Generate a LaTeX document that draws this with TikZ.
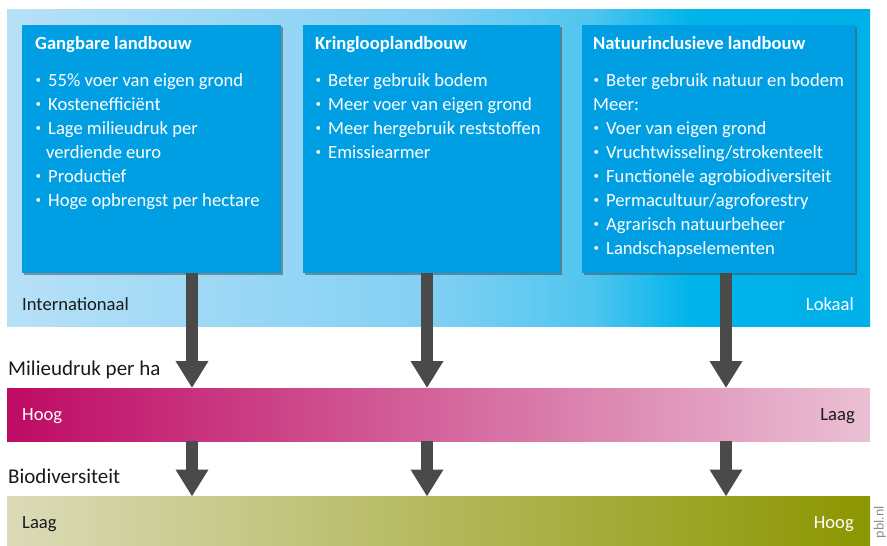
\documentclass[tikz,border=0pt]{standalone}
\usepackage{fontspec}
\setmainfont{Carlito}
\usetikzlibrary{arrows.meta,shadows}
\definecolor{boxblue}{RGB}{0,159,227}
\definecolor{arrowgray}{RGB}{74,74,74}
\definecolor{txtdark}{RGB}{26,26,26}
\definecolor{mdL}{RGB}{190,10,100}
\definecolor{mdR}{RGB}{234,192,212}
\definecolor{bdL}{RGB}{219,219,185}
\definecolor{bdR}{RGB}{140,150,0}
\definecolor{pblgray}{RGB}{140,140,140}
\pgfdeclarehorizontalshading{topband}{100bp}{%
 rgb(0bp)=(0.72,0.88,0.97);
 rgb(25bp)=(0.72,0.88,0.97);
 rgb(49.5bp)=(0.51,0.815,0.955);
 rgb(58.8bp)=(0.31,0.775,0.94);
 rgb(64.6bp)=(0,0.705,0.918);
 rgb(75bp)=(0,0.69,0.91);
 rgb(100bp)=(0,0.69,0.91)}
\newcommand{\smallbul}{{\fontsize{11}{11}\selectfont\raisebox{3pt}{•}}}
\tikzset{
 boxnode/.style={fill=boxblue, draw=none, anchor=north west, inner sep=0pt,
   drop shadow={shadow xshift=1.8pt, shadow yshift=-1.8pt, opacity=0.55, fill=black!70}},
 txt/.style={anchor=base west, inner sep=0pt, font=\fontsize{18.6}{24}\selectfont},
 wtxt/.style={txt, text=white},
 bul/.style={anchor=base west, inner sep=0pt, text=white},
 wbold/.style={txt, text=white, font=\fontsize{18.6}{24}\selectfont\bfseries},
 dtxt/.style={txt, text=txtdark},
 label/.style={anchor=base west, inner sep=0pt, text=txtdark, font=\fontsize{21}{25}\selectfont},
 bigarrow/.style={draw=arrowgray, line width=11.5pt, -{Triangle[length=27pt 0 0, width=31pt 0 0, fill=arrowgray]}},
}
\begin{document}
\begin{tikzpicture}[x=1pt,y=-1pt]
\useasboundingbox (0,0) rectangle (887,546);
% top band
\node[shading=topband, draw=none, anchor=north west, inner sep=0pt, minimum width=863pt, minimum height=317pt] (topband) at (7,9) {};
% boxes
\node[boxnode, minimum width=259pt, minimum height=248pt] (box1) at (22,25) {};
\node[boxnode, minimum width=257pt, minimum height=248pt] (box2) at (302.5,25) {};
\node[boxnode, minimum width=273pt, minimum height=248pt] (box3) at (582,25) {};
% box 1 text
\node[wbold] (t1) at (35,49) {Gangbare landbouw};
\node[bul] (b1a) at (35.5,86) {\smallbul};
\node[wtxt] (l1a) at (48,86) {55\% voer van eigen grond};
\node[bul] (b1b) at (35.5,110) {\smallbul};
\node[wtxt] (l1b) at (48,110) {Kostenefficiënt};
\node[bul] (b1c) at (35.5,134) {\smallbul};
\node[wtxt] (l1c) at (48,134) {Lage milieudruk per};
\node[wtxt] (l1d) at (46,158) {verdiende euro};
\node[bul] (b1e) at (35.5,182) {\smallbul};
\node[wtxt] (l1e) at (48,182) {Productief};
\node[bul] (b1f) at (35.5,206) {\smallbul};
\node[wtxt] (l1f) at (48,206) {Hoge opbrengst per hectare};
% box 2 text
\node[wbold] (t2) at (315,49) {Kringlooplandbouw};
\node[bul] (b2a) at (315.5,86) {\smallbul};
\node[wtxt] (l2a) at (328,86) {Beter gebruik bodem};
\node[bul] (b2b) at (315.5,110) {\smallbul};
\node[wtxt] (l2b) at (328,110) {Meer voer van eigen grond};
\node[bul] (b2c) at (315.5,134) {\smallbul};
\node[wtxt] (l2c) at (328,134) {Meer hergebruik reststoffen};
\node[bul] (b2d) at (315.5,158) {\smallbul};
\node[wtxt] (l2d) at (328,158) {Emissiearmer};
% box 3 text
\node[wbold] (t3) at (593,49) {Natuurinclusieve landbouw};
\node[bul] (b3a) at (593.5,86) {\smallbul};
\node[wtxt] (l3a) at (606,86) {Beter gebruik natuur en bodem};
\node[wtxt] (l3m) at (593,110) {Meer:};
\node[bul] (b3b) at (593.5,134) {\smallbul};
\node[wtxt] (l3b) at (606,134) {Voer van eigen grond};
\node[bul] (b3c) at (593.5,158) {\smallbul};
\node[wtxt] (l3c) at (606,158) {Vruchtwisseling/strokenteelt};
\node[bul] (b3d) at (593.5,182) {\smallbul};
\node[wtxt] (l3d) at (606,182) {Functionele agrobiodiversiteit};
\node[bul] (b3e) at (593.5,206) {\smallbul};
\node[wtxt] (l3e) at (606,206) {Permacultuur/agroforestry};
\node[bul] (b3f) at (593.5,230) {\smallbul};
\node[wtxt] (l3f) at (606,230) {Agrarisch natuurbeheer};
\node[bul] (b3g) at (593.5,254) {\smallbul};
\node[wtxt] (l3g) at (606,254) {Landschapselementen};
% top band labels
\node[dtxt] (intl) at (22,310) {Internationaal};
\node[wtxt, anchor=base east] (lok) at (854,310) {Lokaal};
% milieudruk band
\node[label] (mdlab) at (8,375) {Milieudruk per ha};
\node[left color=mdL, right color=mdR, draw=none, anchor=north west, inner sep=0pt, minimum width=863pt, minimum height=53pt] (band1) at (7,388) {};
\node[wtxt] (hoog1) at (22,420.5) {Hoog};
\node[dtxt, anchor=base east] (laag1) at (855,420.5) {Laag};
% biodiversiteit band
\node[label] (bdlab) at (8,483) {Biodiversiteit};
\node[left color=bdL, right color=bdR, draw=none, anchor=north west, inner sep=0pt, minimum width=863pt, minimum height=49pt] (band2) at (7,496.5) {};
\node[dtxt] (laag2) at (22,528.5) {Laag};
\node[wtxt, anchor=base east] (hoog2) at (854,528.5) {Hoog};
% pbl
\node[rotate=90, inner sep=0pt, text=pblgray, font=\fontsize{14}{16}\selectfont] (pbl) at (880,522) {pbl.nl};
% arrows
\coordinate (ax1) at (192,0);
\coordinate (ax2) at (427,0);
\coordinate (ax3) at (726,0);
\draw[bigarrow] (box1.south -| ax1) -- (band1.north -| ax1);
\draw[bigarrow] (box2.south -| ax2) -- (band1.north -| ax2);
\draw[bigarrow] (box3.south -| ax3) -- (band1.north -| ax3);
\draw[bigarrow] (band1.south -| ax1) -- (band2.north -| ax1);
\draw[bigarrow] (band1.south -| ax2) -- (band2.north -| ax2);
\draw[bigarrow] (band1.south -| ax3) -- (band2.north -| ax3);
\end{tikzpicture}
\end{document}
